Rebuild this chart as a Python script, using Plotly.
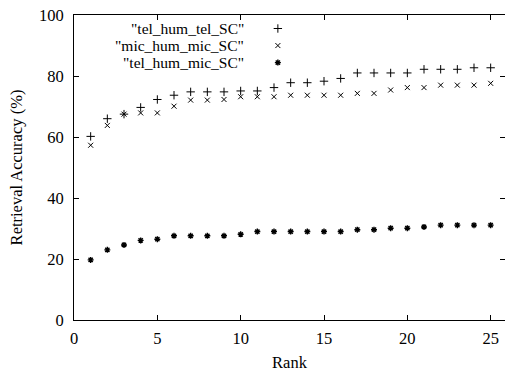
import plotly.graph_objects as go

ranks = list(range(1, 26))
tel_hum_tel_SC = [60.2, 66.0, 67.5, 69.7, 72.3, 73.7, 74.8, 74.8, 74.8, 75.1,
                  75.1, 76.2, 77.8, 77.8, 78.3, 79.2, 81.0, 81.0, 81.0, 81.0,
                  82.2, 82.2, 82.2, 82.7, 82.7]
mic_hum_mic_SC = [57.3, 63.8, 67.5, 67.9, 67.9, 70.1, 72.1, 72.1, 72.3, 73.2,
                  73.2, 73.2, 73.7, 73.7, 73.7, 73.7, 74.3, 74.3, 75.4, 76.2,
                  76.2, 77.0, 77.0, 77.0, 77.6]
tel_hum_mic_SC = [19.7, 23.0, 24.6, 26.1, 26.5, 27.6, 27.6, 27.6, 27.6, 28.1,
                  29.0, 29.0, 29.0, 29.0, 29.0, 29.0, 29.6, 29.6, 30.1, 30.1,
                  30.5, 31.1, 31.1, 31.1, 31.1]
series_names = ['"tel_hum_tel_SC"', '"mic_hum_mic_SC"', '"tel_hum_mic_SC"']
series_values = [tel_hum_tel_SC, mic_hum_mic_SC, tel_hum_mic_SC]
symbols = ["cross-thin", "x-thin", "asterisk"]
sizes = [6, 5, 5]
widths = [1, 1, 1.4]

FONT = "Liberation Serif"
FS = 16.5
LEG_FS = 15.5
W, H = 505, 372
ML, MT, MB, MR = 74, 15, 52, 0

fig = go.Figure()
for name, vals, sym, sz, lw in zip(series_names, series_values, symbols, sizes, widths):
    fig.add_trace(go.Scatter(
        x=ranks, y=vals, mode="markers", name=name, showlegend=False,
        marker=dict(symbol=sym, size=sz, color="black",
                    line=dict(color="black", width=lw)),
        hoverinfo="x+y"))

# legend (gnuplot-style: right-aligned text, key symbol to the right)
leg_text_x = 0.397
leg_key_x = 0.473
leg_rows = [0.9557, 0.8998, 0.844]
for name, sym, sz, lw, ly in zip(series_names, symbols, sizes, widths, leg_rows):
    fig.add_annotation(x=leg_text_x, y=ly, xref="paper", yref="paper",
                       text=name, showarrow=False, xanchor="right",
                       yanchor="middle", borderpad=0,
                       font=dict(family=FONT, size=LEG_FS, color="black"))
    fig.add_trace(go.Scatter(
        x=[leg_key_x], y=[ly], xaxis="x2", yaxis="y2", mode="markers",
        showlegend=False, hoverinfo="skip",
        marker=dict(symbol=sym, size=sz, color="black",
                    line=dict(color="black", width=lw))))

axis_common = dict(
    showgrid=False, zeroline=False, showline=True, linecolor="black",
    linewidth=1, mirror="ticks", ticks="inside", ticklen=5, tickwidth=1,
    tickcolor="black", tickfont=dict(family=FONT, size=FS, color="black"),
)

fig.update_layout(
    width=W, height=H,
    margin=dict(l=ML, r=MR, t=MT, b=MB),
    plot_bgcolor="white", paper_bgcolor="white",
    xaxis=dict(range=[0, 25.86], tickvals=[0, 5, 10, 15, 20, 25],
               title=dict(text="Rank", font=dict(family=FONT, size=FS, color="black"),
                          standoff=10),
               ticklabelstandoff=3, **axis_common),
    yaxis=dict(range=[0, 100], tickvals=[0, 20, 40, 60, 80, 100],
               title=dict(text="Retrieval Accuracy (%)",
                          font=dict(family=FONT, size=FS, color="black"),
                          standoff=12),
               ticklabelstandoff=6, **axis_common),
    xaxis2=dict(range=[0, 1], overlaying="x", visible=False, fixedrange=True),
    yaxis2=dict(range=[0, 1], overlaying="y", visible=False, fixedrange=True),
    showlegend=False,
)

fig.write_html("out.html")
